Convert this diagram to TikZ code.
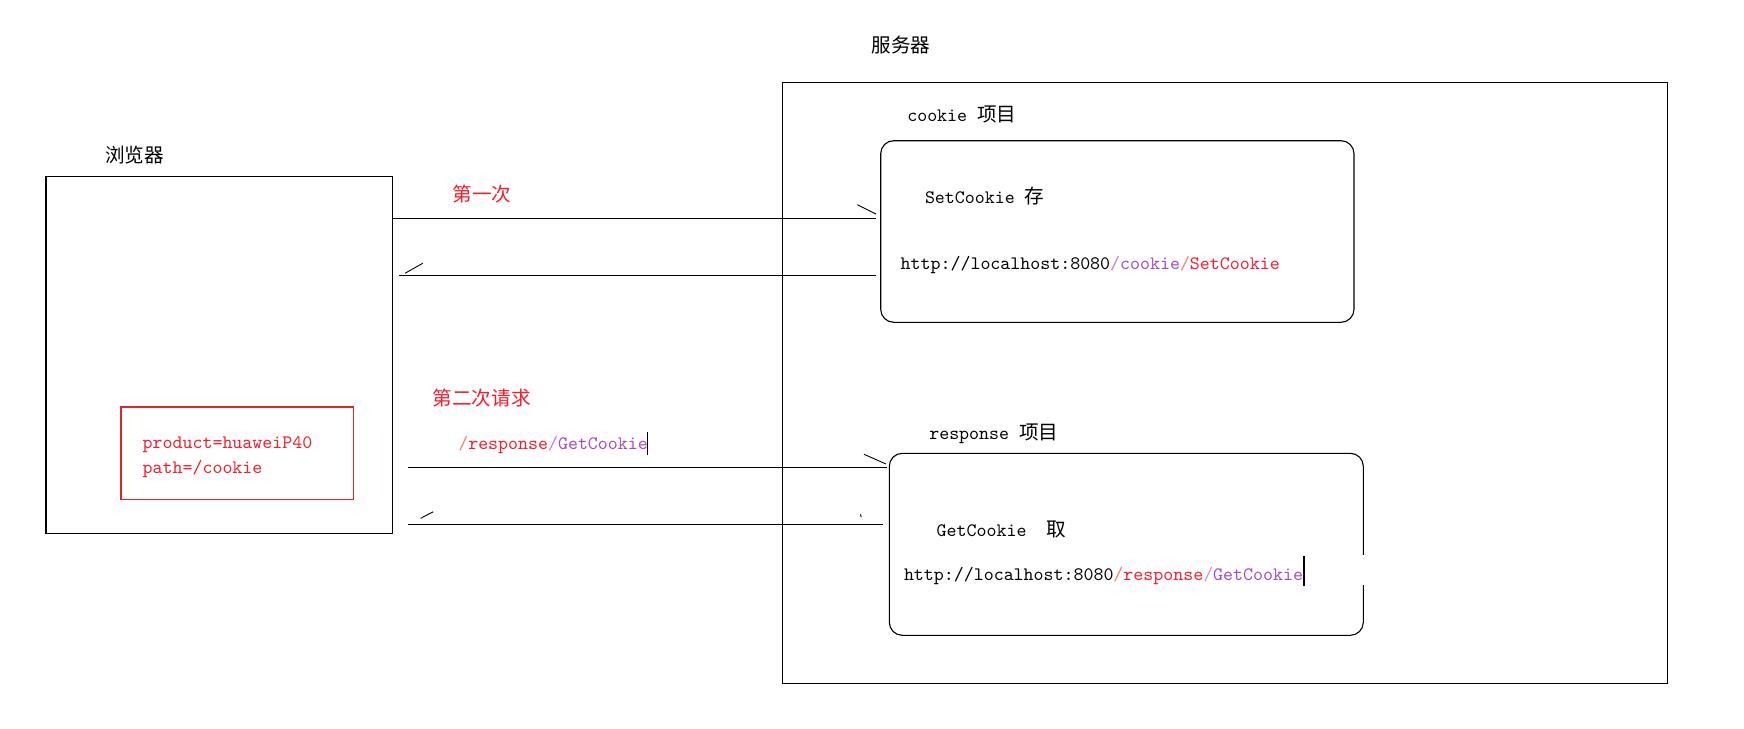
\documentclass[tikz,border=0pt]{standalone}
\usepackage{fontspec}
\newfontfamily\cjk{Noto Sans CJK SC}
\newcommand\cjkfs{\cjk\fontsize{9.8pt}{12pt}\selectfont}
\newcommand\ttfs{\fontsize{9.5pt}{12pt}\selectfont\ttfamily}
\definecolor{cred}{RGB}{245,30,45}
\definecolor{cpur}{RGB}{165,75,195}
\definecolor{cora}{RGB}{245,130,110}
\definecolor{cbox}{RGB}{225,35,45}
\tikzset{
  lbl/.style={inner sep=0pt, outer sep=0pt, font=\cjkfs, anchor=west},
  ttl/.style={inner sep=0pt, outer sep=0pt, font=\ttfs, anchor=base west},
  box/.style={draw, line width=0.55pt, inner sep=0pt, outer sep=0pt},
  rbox/.style={box, rounded corners=6.5pt},
  conn/.style={line width=0.55pt},
  tick/.style={line width=0.45pt},
  cursor/.style={line width=0.6pt}
}
\begin{document}
\begin{tikzpicture}[x=0.5pt,y=-0.5pt]
\useasboundingbox (0,0) rectangle (1744,728);
\fill[white] (0,0) rectangle (1744,728);

% containers
\node[box, minimum width=173.15pt, minimum height=178.5pt] (browser) at (219.15,354.8) {};
\node[box, draw=cbox, minimum width=116.15pt, minimum height=46.15pt] (jar) at (237.15,453.15) {};
\node[box, minimum width=442.5pt, minimum height=300.5pt] (server) at (1224.8,382.8) {};
\node[rbox, minimum width=236.65pt, minimum height=90.8pt] (cbox) at (1117.35,231.5) {};
\node[rbox, minimum width=237pt, minimum height=91pt] (rbox) at (1126.3,544.3) {};
\draw[white, line width=1.6pt] (1363.3,555) -- (1363.3,585);

% titles
\node[lbl] (tbrowser) at (105,155) {浏览器};
\node[lbl] (tserver) at (871.7,45) {服务器};
\node[ttl] (tcookie) at (907.3,121.7) {cookie\ {\cjkfs 项目}};
\node[ttl] (tresp) at (929.3,439.3) {response\ {\cjkfs 项目}};

% jar content
\node[ttl, text=cred] (j1) at (142.7,448.3) {product=huaweiP40};
\node[ttl, text=cred] (j2) at (142.7,473.3) {path=/cookie};

% box contents
\node[ttl] (set) at (925,203.3) {SetCookie\ {\cjkfs 存}};
\node[ttl] (url1) at (900.7,269) {http://localhost:8080\textcolor{cpur!70}{/}\textcolor{cpur}{cookie}\textcolor{cora}{/}\textcolor{cred}{SetCookie}};
\node[ttl] (get) at (936.7,536) {GetCookie\ \ {\cjkfs 取}};
\node[ttl] (url2) at (904,580) {http://localhost:8080\textcolor{cora}{/}\textcolor{cred}{response}\textcolor{cpur!60}{/}\textcolor{cpur}{GetCookie}};
\draw[cursor] (1304,556) -- (1304,586);

% request labels
\node[lbl, text=cred] (first) at (452.7,194) {第一次};
\node[lbl, text=cred] (second) at (432.7,398.3) {第二次请求};
\node[ttl] (path2) at (458.3,449) {\textcolor{cora}{/}\textcolor{cred}{response}\textcolor{cpur!70}{/}\textcolor{cpur}{GetCookie}};
\draw[cursor] (647.3,431.7) -- (647.3,455);

% connector end points
\coordinate (r1s) at (392.3,218.3);
\coordinate (r1e) at (876,218.3);
\coordinate (r2s) at (399,275.3);
\coordinate (r2e) at (876,275.3);
\coordinate (r3s) at (408.3,467.3);
\coordinate (r3e) at (886.7,467.3);
\coordinate (r4s) at (408.3,524.3);
\coordinate (r4e) at (882.7,524.3);

\draw[conn] (r1s) -- (r1e);
\draw[conn] (r2e) -- (r2s);
\draw[conn] (r3s) -- (r3e);
\draw[conn] (r4e) -- (r4s);

% partial arrow heads
\draw[tick] (857.3,204.7) -- (876,214);
\draw[tick] (405,273.3) -- (422.7,263.3);
\draw[tick] (864,454.3) -- (886,464);
\draw[tick] (420.7,518.3) -- (433.3,511.7);
\draw[tick] (860.5,514.3) -- (861.2,517.2);
\end{tikzpicture}
\end{document}
